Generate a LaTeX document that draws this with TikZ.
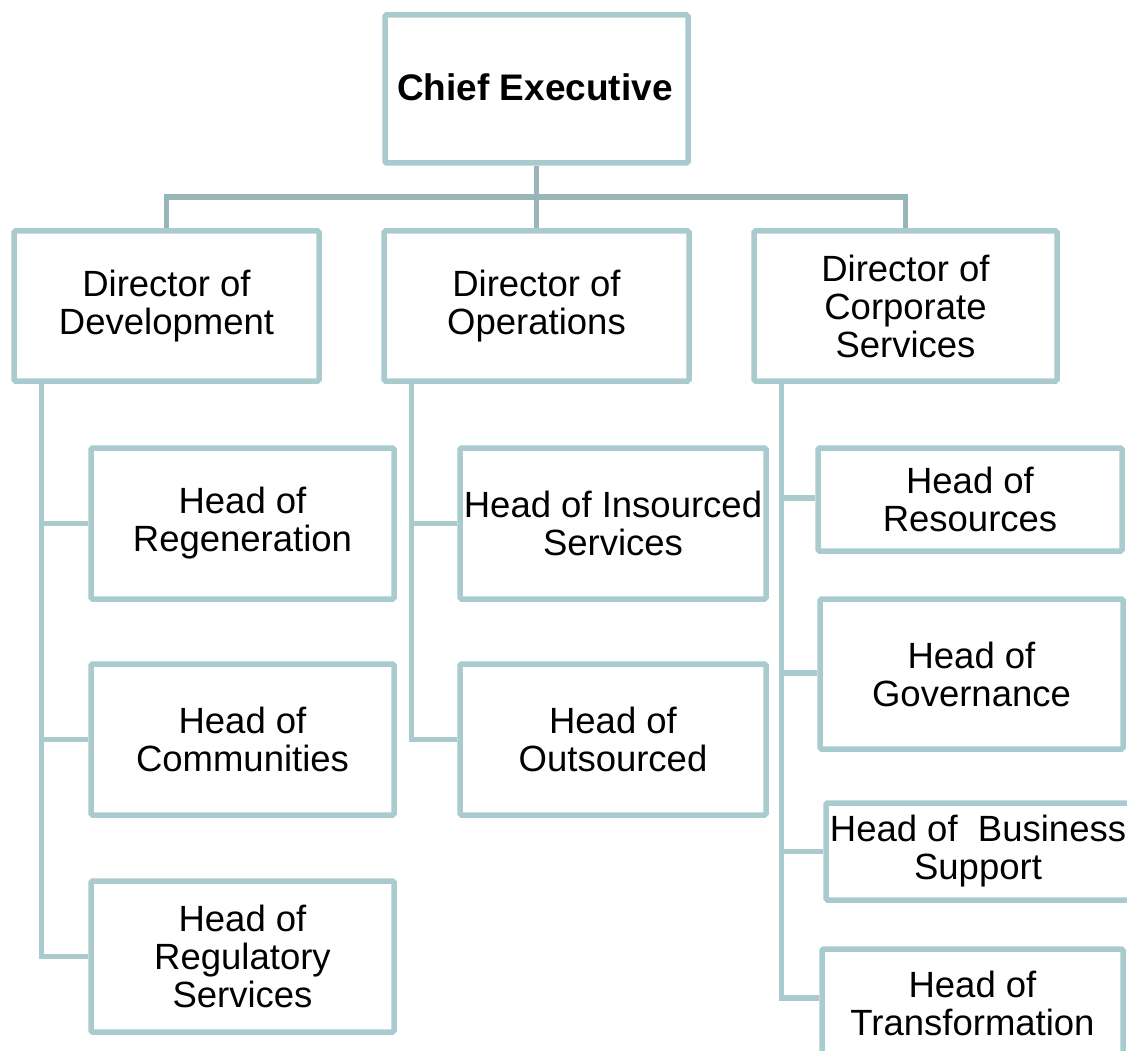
\documentclass[tikz,border=0pt]{standalone}
\usepackage{fontspec}
\setmainfont{Liberation Sans}
\definecolor{boxline}{HTML}{A9CBCE}
\definecolor{barline}{HTML}{98B5B7}
\begin{document}
\begin{tikzpicture}[x=1pt,y=-1pt,
  box/.style={draw=boxline, line width=5.5pt, rounded corners=1.5pt, fill=white,
    inner sep=0pt, align=center, font=\fontsize{36.5}{38}\selectfont},
  conn/.style={draw=boxline, line width=5.5pt},
  topconn/.style={draw=barline, line width=5.5pt}]
\useasboundingbox (0,0) rectangle (1127,1051);
\clip (0,0) rectangle (1127,1051);

% chief executive
\node[box, minimum width=303pt, minimum height=148pt] (ce) at (536.5,89) {};
\node[font=\fontsize{37}{38}\selectfont\bfseries, inner sep=0pt] (cet) at (535,87) {Chief Executive};
% directors
\node[box, minimum width=305pt, minimum height=150pt] (dd) at (166.5,306) {Director of\\Development};
\node[box, minimum width=305pt, minimum height=150pt] (do) at (536.5,306) {Director of\\Operations};
\node[box, minimum width=303pt, minimum height=150pt] (dc) at (905.5,306) {Director of\\Corporate\\Services};
% development heads
\node[box, minimum width=303pt, minimum height=151pt] (hreg) at (242.5,523.5) {Head of\\Regeneration};
\node[box, minimum width=303pt, minimum height=151pt] (hcom) at (242.5,739.5) {Head of\\Communities};
\node[box, minimum width=303pt, minimum height=151pt] (hrgs) at (242.5,956.5) {Head of\\Regulatory\\Services};
% operations heads
\node[box, minimum width=306pt, minimum height=151pt] (hins) at (613,523.5) {Head of Insourced\\Services};
\node[box, minimum width=306pt, minimum height=151pt] (hout) at (613,739.5) {Head of\\Outsourced};
% corporate services heads
\node[box, minimum width=304pt, minimum height=103pt] (hres) at (970,499.5) {Head of\\Resources};
\node[box, minimum width=303pt, minimum height=150pt] (hgov) at (971.5,674) {Head of\\Governance};
\node[box, minimum width=304pt, minimum height=97pt] (hbus) at (978,851.5) {Head of\ \ Business\\Support};
\node[box, minimum width=301pt, minimum height=109pt] (htr) at (972.5,1003.5) {Head of\\Transformation};

% top level connectors
\coordinate (bar) at (536.5,197);
\draw[topconn] (ce.south) -- (do.north);
\draw[topconn] (dd.north) |- (bar) -| (dc.north);

% spines
\coordinate (sd) at ([xshift=30pt]dd.south west);
\coordinate (so) at ([xshift=30pt]do.south west);
\coordinate (sc) at ([xshift=30pt]dc.south west);
\draw[conn] (sd) |- (hreg.west);
\draw[conn] (sd) |- (hcom.west);
\draw[conn] (sd) |- (hrgs.west);
\draw[conn] (so) |- (hins.west);
\draw[conn] (so) |- (hout.west);
\draw[conn] (sc) |- ([yshift=1.5pt]hres.west);
\draw[conn] (sc) |- ([yshift=1pt]hgov.west);
\draw[conn] (sc) |- (hbus.west);
\draw[conn] (sc) |- ([yshift=5.5pt]htr.west);
\end{tikzpicture}
\end{document}
